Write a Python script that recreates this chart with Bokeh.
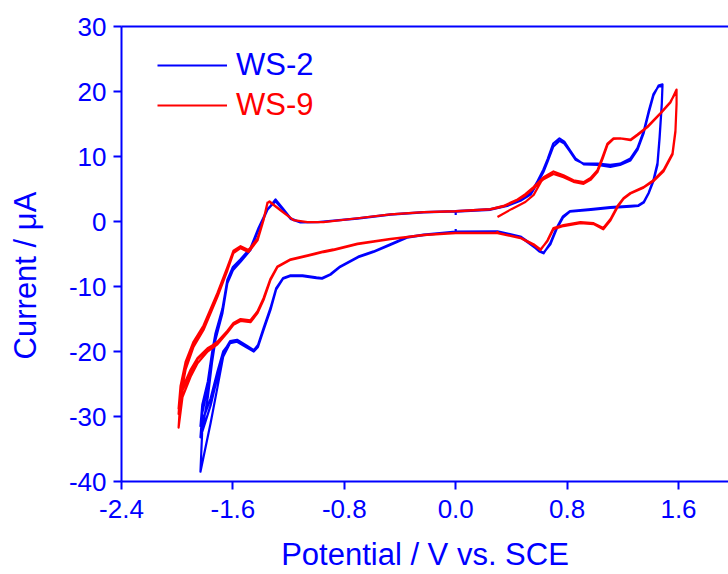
from bokeh.plotting import figure
from bokeh.models import (LinearAxis, FixedTicker, NumeralTickFormatter, Legend,
                          LegendItem, Range1d, ColumnDataSource)
from bokeh.embed import file_html
from bokeh.resources import INLINE

# ---------------- data (potential V vs SCE, current uA) ----------------
x_ticks = [-2.4, -1.6, -0.8, 0.0, 0.8, 1.6]
y_ticks = [-40, -30, -20, -10, 0, 10, 20, 30]

# WS-2 : right part of loop (0 V upper -> +1.49 V -> 0 V lower)
ws2_right_v = [0.00, 0.25, 0.37, 0.465, 0.54, 0.59, 0.63, 0.66, 0.70, 0.745, 0.78, 0.82, 0.86, 0.92,
               1.02, 1.11, 1.18, 1.255, 1.305, 1.35, 1.385, 1.42, 1.456, 1.485, 1.48, 1.464, 1.449,
               1.42, 1.385, 1.35, 1.313, 1.255, 1.11, 0.97, 0.82, 0.77, 0.724, 0.68, 0.631, 0.60,
               0.573, 0.465, 0.30, 0.00]
ws2_right_a_i = [1.6, 1.9, 2.5, 3.3, 4.4, 6.3, 8.0, 9.6, 12.0, 12.8, 12.3, 11.0, 9.7, 8.8,
                 8.7, 8.4, 8.7, 9.4, 11.0, 13.6, 16.6, 19.4, 20.9, 21.1, 18.2, 13.0, 9.0,
                 6.4, 4.4, 3.0, 2.5, 2.4, 2.2, 1.9, 1.6, 0.8, -1.0, -3.3, -4.9, -4.6,
                 -4.1, -2.4, -1.6, -1.6]
ws2_right_b_i = [1.5, 1.8, 2.4, 3.2, 4.2, 6.0, 7.6, 9.2, 11.5, 12.4, 12.0, 10.8, 9.5, 8.9,
                 8.9, 8.7, 8.9, 9.7, 11.3, 13.9, 16.9, 19.6, 20.8, 20.9, 18.0, 12.7, 8.7,
                 6.2, 4.3, 2.9, 2.4, 2.3, 2.1, 1.8, 1.5, 0.6, -1.2, -3.5, -4.8, -4.5,
                 -3.9, -2.3, -1.5, -1.55]
# WS-2 : left part of loop (0 V lower -> -1.83 V -> 0 V upper)
ws2_left_v = [0.00, -0.23, -0.35, -0.47, -0.59, -0.70, -0.83, -0.90, -0.96, -1.00, -1.10, -1.19,
              -1.24, -1.29, -1.33, -1.38, -1.42, -1.45, -1.50, -1.57, -1.62, -1.67, -1.71, -1.76,
              -1.833, -1.82, -1.78, -1.75, -1.725, -1.675, -1.64, -1.60, -1.545, -1.474, -1.416,
              -1.352, -1.294, -1.244, -1.186, -1.115, -0.99, -0.705, -0.468, -0.23, 0.00]
ws2_left1_i = [-1.6, -2.1, -2.5, -3.6, -4.7, -5.5, -7.0, -8.2, -8.8, -8.7, -8.4, -8.4,
               -8.8, -10.5, -13.6, -16.7, -19.3, -20.0, -19.4, -18.5, -18.7, -20.8, -25.4, -31.0,
               -38.5, -32.0, -27.0, -21.7, -18.2, -14.1, -9.5, -7.5, -6.2, -4.4, -1.3,
               1.8, 3.4, 2.1, 0.5, -0.1, -0.1, 0.5, 1.1, 1.45, 1.6]
ws2_left2_i = [-1.6, -2.0, -2.4, -3.5, -4.6, -5.4, -6.9, -8.1, -8.7, -8.6, -8.3, -8.3,
               -8.7, -10.3, -13.3, -16.4, -19.0, -19.8, -19.1, -18.2, -18.4, -20.2, -23.8, -28.3,
               -33.2, -29.5, -25.4, -20.8, -17.6, -13.6, -9.2, -7.2, -5.9, -4.2, -1.1,
               1.8, 3.2, 2.0, 0.45, -0.15, -0.1, 0.45, 1.05, 1.4, 1.55]
ws2_left3_i = [-1.55, -2.0, -2.4, -3.5, -4.6, -5.4, -6.9, -8.1, -8.7, -8.6, -8.3, -8.3,
               -8.7, -10.4, -13.4, -16.5, -19.1, -19.9, -19.2, -18.4, -18.6, -20.0, -23.0, -27.2,
               -31.5, -28.2, -24.6, -20.2, -17.2, -13.4, -9.0, -7.0, -5.8, -4.1, -1.0,
               1.9, 3.1, 1.9, 0.4, -0.15, -0.1, 0.45, 1.05, 1.4, 1.55]
ws2_start_v, ws2_start_i = [0.0], [1.0]
ws2_end_v, ws2_end_i = [0.0], [-1.15]

# WS-9 : right part of loop
ws9_right_v = [0.00, 0.25, 0.343, 0.444, 0.50, 0.559, 0.631, 0.702, 0.774, 0.846, 0.918, 0.968,
               1.018, 1.054, 1.09, 1.133, 1.183, 1.255, 1.306, 1.377, 1.471, 1.542, 1.586, 1.586,
               1.578, 1.557, 1.492, 1.42, 1.349, 1.255, 1.205, 1.162, 1.112, 1.06, 0.99, 0.896,
               0.774, 0.702, 0.659, 0.609, 0.559, 0.465, 0.30, 0.00]
ws9_right_a_i = [1.6, 1.9, 2.4, 3.4, 4.2, 5.3, 6.8, 7.7, 7.1, 6.35, 6.05, 6.7,
                 7.9, 9.9, 12.0, 12.8, 12.8, 12.5, 13.3, 14.5, 16.6, 18.3, 20.3, 18.2,
                 14.0, 10.5, 7.9, 6.35, 5.3, 4.4, 3.6, 2.4, 0.4, -1.0, -0.25, -0.1,
                 -0.55, -1.0, -2.9, -4.4, -3.6, -2.55, -1.8, -1.8]
ws9_right_b_i = [1.55, 1.85, 2.3, 3.3, 4.0, 5.1, 6.5, 7.3, 6.8, 6.1, 5.8, 6.4,
                 7.6, 9.6, 11.8, 12.7, 12.8, 12.6, 13.4, 14.6, 16.7, 18.4, 20.1, 18.0,
                 13.8, 10.3, 7.7, 6.2, 5.2, 4.3, 3.5, 2.2, 0.2, -1.2, -0.4, -0.25,
                 -0.7, -1.2, -3.0, -4.3, -3.5, -2.5, -1.75, -1.75]
# WS-9 : left part of loop
ws9_left_v = [0.00, -0.23, -0.346, -0.468, -0.705, -0.878, -0.949, -1.064, -1.186, -1.28, -1.33,
              -1.38, -1.423, -1.474, -1.545, -1.596, -1.639, -1.711, -1.782, -1.854, -1.904,
              -1.962, -1.99, -1.976, -1.94, -1.883, -1.811, -1.711, -1.639, -1.596, -1.545,
              -1.488, -1.423, -1.38, -1.352, -1.337, -1.258, -1.165, -1.064, -0.949, -0.705,
              -0.468, -0.23, 0.00]
ws9_left1_i = [-1.8, -2.1, -2.4, -2.7, -3.5, -4.4, -4.7, -5.3, -5.9, -7.0, -9.0,
               -12.1, -14.1, -15.5, -15.3, -15.9, -17.1, -18.9, -20.0, -21.8, -23.9,
               -27.0, -31.7, -27.0, -22.8, -19.3, -16.7, -11.6, -7.5, -4.85, -4.1,
               -4.7, -2.9, 0.2, 2.8, 3.1, 1.75, 0.2, -0.1, -0.1, 0.5,
               1.1, 1.45, 1.6]
ws9_left2_i = [-1.75, -2.05, -2.35, -2.65, -3.4, -4.3, -4.6, -5.2, -5.8, -6.9, -8.8,
               -11.8, -13.8, -15.2, -15.0, -15.6, -16.8, -18.5, -19.6, -21.2, -23.2,
               -26.0, -29.6, -25.8, -22.0, -18.8, -16.2, -11.2, -7.2, -4.6, -3.9,
               -4.5, -2.7, 0.3, 2.9, 3.0, 1.7, 0.2, -0.1, -0.1, 0.5,
               1.1, 1.45, 1.55]
ws9_left3_i = [-1.75, -2.05, -2.35, -2.65, -3.4, -4.3, -4.6, -5.2, -5.8, -6.9, -8.8,
               -11.9, -13.9, -15.3, -15.1, -15.7, -16.9, -18.6, -19.5, -21.0, -22.8,
               -25.6, -28.8, -25.3, -21.6, -18.5, -16.0, -11.0, -7.0, -4.5, -3.8,
               -4.4, -2.6, 0.3, 2.9, 3.0, 1.7, 0.2, -0.1, -0.1, 0.5,
               1.1, 1.45, 1.55]
ws9_start_v, ws9_start_i = [0.30, 0.40, 0.50, 0.56], [0.7, 1.9, 3.0, 4.1]
ws9_end_v, ws9_end_i = [0.30], [-1.45]

# ---------------- assemble continuous scans ----------------
ws2_v = (ws2_start_v + ws2_right_v + ws2_left_v + ws2_right_v + ws2_left_v +
         ws2_right_v + ws2_left_v + ws2_right_v + ws2_end_v)
ws2_i = (ws2_start_i + ws2_right_a_i + ws2_left1_i + ws2_right_b_i + ws2_left2_i +
         ws2_right_a_i + ws2_left3_i + ws2_right_b_i + ws2_end_i)

ws9_v = (ws9_start_v + ws9_right_v[6:] + ws9_left_v + ws9_right_v + ws9_left_v +
         ws9_right_v + ws9_left_v + ws9_right_v[:43] + ws9_end_v)
ws9_i = (ws9_start_i + ws9_right_a_i[6:] + ws9_left1_i + ws9_right_b_i + ws9_left2_i +
         ws9_right_a_i + ws9_left3_i + ws9_right_b_i[:43] + ws9_end_i)

BLUE = "#0000FF"
RED = "#FF0000"
FONT = "Liberation Sans"

p = figure(width=728, height=574, x_range=Range1d(-2.4, 1.959), y_range=Range1d(-40, 30),
           output_backend="svg", toolbar_location=None,
           min_border_left=121, min_border_right=0, min_border_top=26, min_border_bottom=0)
p.xgrid.visible = False
p.ygrid.visible = False
p.outline_line_color = None
p.background_fill_color = "white"
p.border_fill_color = "white"

r2 = p.line(x="v", y="i", source=ColumnDataSource(dict(v=ws2_v, i=ws2_i)),
            line_color=BLUE, line_width=2.2, line_join="round")
r9 = p.line(x="v", y="i", source=ColumnDataSource(dict(v=ws9_v, i=ws9_i)),
            line_color=RED, line_width=2.2, line_join="round")

for ax in (p.xaxis[0], p.yaxis[0]):
    ax.axis_line_color = BLUE
    ax.axis_line_width = 2
    ax.major_tick_line_color = BLUE
    ax.major_tick_line_width = 2
    ax.major_tick_in = 0
    ax.major_tick_out = 8
    ax.minor_tick_line_color = None
    ax.major_label_text_color = BLUE
    ax.major_label_text_font = FONT
    ax.major_label_text_font_size = "26px"
    ax.axis_label_text_color = BLUE
    ax.axis_label_text_font = FONT
    ax.axis_label_text_font_size = "31px"
    ax.axis_label_text_font_style = "normal"

p.xaxis[0].ticker = FixedTicker(ticks=x_ticks)
p.xaxis[0].formatter = NumeralTickFormatter(format="0.0")
p.xaxis[0].axis_label = "Potential / V vs. SCE"
p.xaxis[0].major_label_standoff = 10
p.xaxis[0].axis_label_standoff = 16

p.yaxis[0].ticker = FixedTicker(ticks=y_ticks)
p.yaxis[0].formatter = NumeralTickFormatter(format="0")
p.yaxis[0].major_label_standoff = 7
# trailing no-break spaces shift the visible title slightly below the frame centre,
# where it sits in the original
p.yaxis[0].axis_label = "Current / \u03bcA" + "\u00a0" * 5
p.yaxis[0].axis_label_standoff = 23

top = LinearAxis(ticker=FixedTicker(ticks=[]), axis_line_color=BLUE, axis_line_width=2,
                 major_tick_line_color=None, minor_tick_line_color=None,
                 major_label_text_color=None)
p.add_layout(top, "above")

def make_legend(label, rend, color, loc):
    return Legend(items=[LegendItem(label=label, renderers=[rend])], location=loc,
                  glyph_width=70, glyph_height=20, label_standoff=9,
                  label_text_font=FONT, label_text_font_size="31px",
                  label_text_color=color, padding=0, margin=0, spacing=0,
                  border_line_color=None, background_fill_alpha=0)

p.add_layout(make_legend("WS-2", r2, BLUE, (36, 398)))
p.add_layout(make_legend("WS-9", r9, RED, (36, 358)))

open("out.html", "w").write(file_html(p, INLINE))
